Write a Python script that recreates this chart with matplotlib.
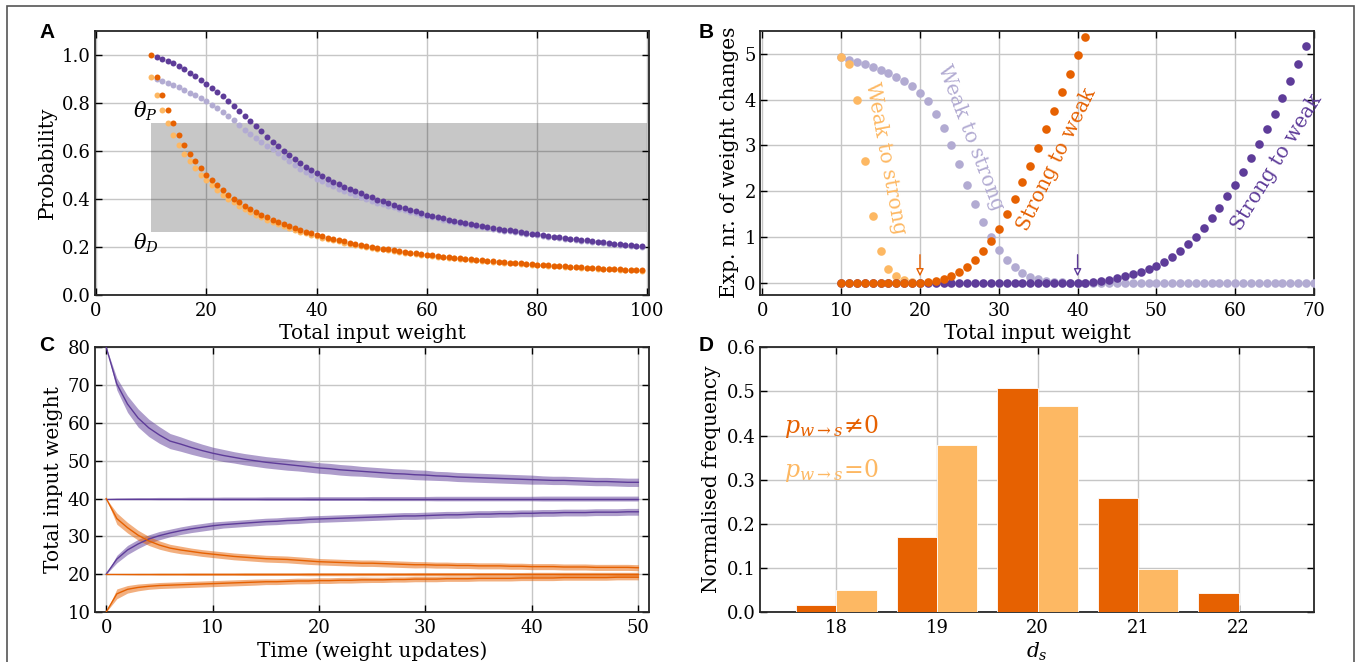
import numpy as np
import matplotlib
matplotlib.use("Agg")
import matplotlib.pyplot as plt
from matplotlib.patches import Rectangle

# ---------------------------------------------------------------- colours
DARK_PURPLE = "#5e3c99"
LIGHT_PURPLE = "#b2abd2"
DARK_ORANGE = "#e66101"
LIGHT_ORANGE = "#fdb863"

# ---------------------------------------------------------------- panel A data
a_weight_orange = list(range(10, 100))
a_weight_purple = list(range(11, 100))

a_prob_dark_orange = [
    1.000, 0.909, 0.833, 0.769, 0.714, 0.667, 0.625, 0.588, 0.556, 0.526,
    0.500, 0.476, 0.455, 0.435, 0.417, 0.400, 0.385, 0.370, 0.357, 0.345,
    0.333, 0.323, 0.313, 0.303, 0.294, 0.286, 0.278, 0.270, 0.263, 0.256,
    0.250, 0.244, 0.238, 0.233, 0.227, 0.222, 0.217, 0.213, 0.208, 0.204,
    0.200, 0.196, 0.192, 0.189, 0.185, 0.182, 0.179, 0.175, 0.172, 0.169,
    0.167, 0.164, 0.161, 0.159, 0.156, 0.154, 0.152, 0.149, 0.147, 0.145,
    0.143, 0.141, 0.139, 0.137, 0.135, 0.133, 0.132, 0.130, 0.128, 0.127,
    0.125, 0.123, 0.122, 0.120, 0.119, 0.118, 0.116, 0.115, 0.114, 0.112,
    0.111, 0.110, 0.109, 0.108, 0.106, 0.105, 0.104, 0.103, 0.102, 0.101]

a_prob_light_orange = [
    0.909, 0.833, 0.769, 0.714, 0.667, 0.625, 0.588, 0.556, 0.526, 0.500,
    0.476, 0.455, 0.435, 0.417, 0.400, 0.385, 0.370, 0.357, 0.345, 0.333,
    0.323, 0.313, 0.303, 0.294, 0.286, 0.278, 0.270, 0.263, 0.256, 0.250,
    0.244, 0.238, 0.233, 0.227, 0.222, 0.217, 0.213, 0.208, 0.204, 0.200,
    0.196, 0.192, 0.189, 0.185, 0.182, 0.179, 0.175, 0.172, 0.169, 0.167,
    0.164, 0.161, 0.159, 0.156, 0.154, 0.152, 0.149, 0.147, 0.145, 0.143,
    0.141, 0.139, 0.137, 0.135, 0.133, 0.132, 0.130, 0.128, 0.127, 0.125,
    0.123, 0.122, 0.120, 0.119, 0.118, 0.116, 0.115, 0.114, 0.112, 0.111,
    0.110, 0.109, 0.108, 0.106, 0.105, 0.104, 0.103, 0.102, 0.101, 0.100]

a_prob_dark_purple = [
    0.989, 0.981, 0.972, 0.964, 0.951, 0.939, 0.925, 0.910, 0.895,
    0.879, 0.862, 0.845, 0.827, 0.807, 0.787, 0.766, 0.745, 0.723, 0.701,
    0.680, 0.658, 0.637, 0.618, 0.599, 0.582, 0.566, 0.550, 0.534, 0.521,
    0.507, 0.495, 0.483, 0.471, 0.461, 0.450, 0.441, 0.431, 0.422, 0.413,
    0.405, 0.396, 0.389, 0.381, 0.373, 0.367, 0.360, 0.354, 0.347, 0.341,
    0.334, 0.329, 0.324, 0.318, 0.313, 0.309, 0.304, 0.300, 0.295, 0.291,
    0.287, 0.283, 0.279, 0.275, 0.271, 0.268, 0.264, 0.261, 0.257, 0.254,
    0.251, 0.248, 0.245, 0.242, 0.239, 0.236, 0.234, 0.231, 0.228, 0.226,
    0.223, 0.221, 0.218, 0.216, 0.213, 0.211, 0.208, 0.206, 0.204, 0.202]

a_prob_light_purple = [
    0.899, 0.892, 0.882, 0.874, 0.864, 0.853, 0.842, 0.831, 0.819,
    0.806, 0.792, 0.777, 0.760, 0.744, 0.726, 0.708, 0.688, 0.670, 0.654,
    0.637, 0.620, 0.605, 0.590, 0.572, 0.556, 0.541, 0.525, 0.510, 0.497,
    0.484, 0.473, 0.462, 0.451, 0.442, 0.432, 0.424, 0.415, 0.407, 0.399,
    0.392, 0.384, 0.378, 0.371, 0.364, 0.358, 0.352, 0.346, 0.340, 0.334,
    0.328, 0.323, 0.318, 0.313, 0.308, 0.304, 0.299, 0.295, 0.291, 0.287,
    0.283, 0.279, 0.275, 0.271, 0.267, 0.264, 0.260, 0.257, 0.254, 0.251,
    0.248, 0.245, 0.242, 0.239, 0.236, 0.233, 0.231, 0.228, 0.225, 0.223,
    0.220, 0.218, 0.215, 0.213, 0.210, 0.208, 0.205, 0.203, 0.201, 0.199]

a_theta_p = 0.715
a_theta_d = 0.26
a_band_start, a_band_end = 10, 100

# ---------------------------------------------------------------- panel B data
b_weight_light_orange = list(range(10, 21))
b_weight_light_purple = list(range(10, 71))
b_weight_dark_orange = list(range(10, 42))
b_weight_dark_purple = list(range(10, 70))

b_light_orange = [4.93, 4.78, 4.00, 2.67, 1.47, 0.71, 0.31, 0.15, 0.07, 0.03, 0.01]

b_light_purple = ([4.92, 4.87, 4.82, 4.78, 4.71, 4.64, 4.58, 4.49, 4.41, 4.30,
                   4.15, 3.96, 3.68, 3.38, 3.00, 2.59, 2.15, 1.72, 1.33, 1.01,
                   0.72, 0.51, 0.35, 0.23, 0.14, 0.09, 0.05, 0.03, 0.02, 0.01]
                  + [0.0] * 31)

b_dark_orange = ([0.0] * 11
                 + [0.02, 0.05, 0.09, 0.15, 0.24, 0.36, 0.51, 0.70, 0.93,
                    1.18, 1.50, 1.83, 2.20, 2.56, 2.94, 3.35, 3.75, 4.16, 4.56,
                    4.96, 5.36])

b_dark_purple = ([0.0] * 31
                 + [0.01, 0.03, 0.05, 0.08, 0.12, 0.16, 0.20, 0.25, 0.31,
                    0.38, 0.46, 0.57, 0.70, 0.85, 1.01, 1.20, 1.41, 1.64, 1.89,
                    2.15, 2.43, 2.72, 3.03, 3.35, 3.69, 4.04, 4.41, 4.78, 5.17])

b_arrow_orange_x = 20
b_arrow_purple_x = 40

# ---------------------------------------------------------------- panel C data
c_time = list(range(0, 51))

c_purple_high = [
    80.0, 70.3, 65.0, 61.3, 58.7, 56.8, 55.2, 54.4, 53.5, 52.7,
    52.0, 51.4, 50.9, 50.4, 50.0, 49.6, 49.3, 49.0, 48.7, 48.4,
    48.1, 47.9, 47.6, 47.4, 47.2, 47.0, 46.8, 46.6, 46.5, 46.3,
    46.2, 46.0, 45.9, 45.7, 45.6, 45.5, 45.4, 45.3, 45.2, 45.1,
    45.0, 44.9, 44.8, 44.8, 44.7, 44.6, 44.5, 44.5, 44.4, 44.3, 44.3]
c_purple_high_sd = [
    0.0, 1.6, 2.2, 2.4, 2.3, 2.2, 2.0, 1.9, 1.8, 1.7,
    1.6, 1.6, 1.5, 1.5, 1.5, 1.5, 1.5, 1.5, 1.4, 1.4,
    1.4, 1.4, 1.4, 1.4, 1.3, 1.3, 1.3, 1.3, 1.3, 1.3,
    1.3, 1.2, 1.2, 1.2, 1.2, 1.2, 1.2, 1.2, 1.2, 1.2,
    1.2, 1.1, 1.1, 1.1, 1.1, 1.1, 1.1, 1.1, 1.1, 1.1, 1.1]

c_purple_mid = [40.0] * 51
c_purple_mid_sd = [
    0.0, 0.15, 0.2, 0.25, 0.25, 0.3, 0.3, 0.3, 0.35, 0.35,
    0.35, 0.4, 0.4, 0.4, 0.4, 0.45, 0.45, 0.45, 0.45, 0.5,
    0.5, 0.5, 0.5, 0.5, 0.5, 0.55, 0.55, 0.55, 0.55, 0.55,
    0.55, 0.6, 0.6, 0.6, 0.6, 0.6, 0.6, 0.6, 0.6, 0.6,
    0.6, 0.65, 0.65, 0.65, 0.65, 0.65, 0.65, 0.65, 0.65, 0.65, 0.65]

c_purple_low = [
    20.0, 24.0, 26.4, 28.0, 29.3, 30.2, 30.9, 31.5, 32.0, 32.4,
    32.8, 33.1, 33.3, 33.5, 33.7, 33.9, 34.0, 34.2, 34.3, 34.5,
    34.6, 34.7, 34.8, 34.9, 35.0, 35.1, 35.2, 35.3, 35.4, 35.4,
    35.5, 35.6, 35.7, 35.7, 35.8, 35.9, 35.9, 36.0, 36.0, 36.1,
    36.1, 36.2, 36.2, 36.3, 36.3, 36.3, 36.4, 36.4, 36.4, 36.5, 36.5]
c_purple_low_sd = [
    0.0, 1.0, 1.2, 1.2, 1.1, 1.1, 1.0, 1.0, 1.0, 1.0,
    1.0, 0.9, 0.9, 0.9, 0.9, 0.9, 0.9, 0.9, 0.9, 0.9,
    0.9, 0.9, 0.9, 0.9, 0.9, 0.9, 0.9, 0.9, 0.9, 0.9,
    0.9, 0.9, 0.9, 0.9, 0.9, 0.9, 0.9, 0.9, 0.9, 0.9,
    0.9, 0.9, 0.9, 0.9, 0.9, 0.9, 0.9, 0.9, 0.9, 0.9, 0.9]

c_orange_high = [
    40.0, 34.7, 32.3, 30.3, 28.8, 27.7, 26.9, 26.4, 26.0, 25.6,
    25.3, 25.0, 24.7, 24.5, 24.3, 24.1, 24.0, 23.9, 23.7, 23.5,
    23.3, 23.2, 23.1, 23.0, 22.9, 22.9, 22.8, 22.7, 22.6, 22.5,
    22.5, 22.4, 22.4, 22.3, 22.3, 22.2, 22.2, 22.2, 22.1, 22.1,
    22.0, 22.0, 22.0, 21.9, 21.9, 21.9, 21.8, 21.8, 21.8, 21.8, 21.7]
c_orange_high_sd = [
    0.0, 1.5, 1.4, 1.3, 1.2, 1.1, 1.0, 1.0, 0.9, 0.9,
    0.9, 0.9, 0.9, 0.9, 0.9, 0.9, 0.9, 0.9, 0.9, 0.9,
    0.85, 0.85, 0.85, 0.85, 0.85, 0.85, 0.85, 0.85, 0.85, 0.85,
    0.8, 0.8, 0.8, 0.8, 0.8, 0.8, 0.8, 0.8, 0.8, 0.8,
    0.8, 0.8, 0.8, 0.8, 0.8, 0.8, 0.8, 0.8, 0.8, 0.8, 0.8]

c_orange_mid = [20.0] * 51
c_orange_mid_sd = [
    0.0, 0.1, 0.15, 0.2, 0.2, 0.25, 0.25, 0.25, 0.3, 0.3,
    0.3, 0.3, 0.3, 0.35, 0.35, 0.35, 0.35, 0.35, 0.35, 0.4,
    0.4, 0.4, 0.4, 0.4, 0.4, 0.4, 0.4, 0.4, 0.4, 0.45,
    0.45, 0.45, 0.45, 0.45, 0.45, 0.45, 0.45, 0.45, 0.45, 0.45,
    0.5, 0.5, 0.5, 0.5, 0.5, 0.5, 0.5, 0.5, 0.5, 0.5, 0.5]

c_orange_low = [
    10.0, 14.8, 16.0, 16.5, 16.8, 17.0, 17.1, 17.2, 17.3, 17.4,
    17.5, 17.6, 17.7, 17.8, 17.9, 18.0, 18.0, 18.1, 18.2, 18.2,
    18.3, 18.3, 18.4, 18.4, 18.5, 18.5, 18.5, 18.6, 18.6, 18.7,
    18.7, 18.7, 18.8, 18.8, 18.8, 18.9, 18.9, 18.9, 18.9, 19.0,
    19.0, 19.0, 19.0, 19.1, 19.1, 19.1, 19.1, 19.1, 19.2, 19.2, 19.2]
c_orange_low_sd = [
    0.0, 1.3, 1.0, 0.9, 0.8, 0.8, 0.8, 0.8, 0.8, 0.8,
    0.8, 0.8, 0.8, 0.8, 0.8, 0.75, 0.75, 0.75, 0.75, 0.75,
    0.75, 0.75, 0.75, 0.75, 0.75, 0.7, 0.7, 0.7, 0.7, 0.7,
    0.7, 0.7, 0.7, 0.7, 0.7, 0.7, 0.7, 0.7, 0.7, 0.7,
    0.7, 0.7, 0.7, 0.7, 0.7, 0.7, 0.7, 0.7, 0.7, 0.7, 0.7]

# ---------------------------------------------------------------- panel D data
d_categories = [18, 19, 20, 21, 22]
d_freq_nonzero = [0.015, 0.171, 0.507, 0.258, 0.042]
d_freq_zero = [0.051, 0.379, 0.467, 0.098, 0.0]

# ---------------------------------------------------------------- styling
plt.rcParams.update({
    "font.family": "DejaVu Serif",
    "mathtext.fontset": "dejavuserif",
    "font.size": 12,
    "axes.linewidth": 1.3,
    "axes.edgecolor": "#262626",
    "xtick.direction": "in",
    "ytick.direction": "in",
    "xtick.top": True,
    "ytick.right": True,
    "xtick.major.size": 5,
    "ytick.major.size": 5,
    "xtick.major.width": 1.0,
    "ytick.major.width": 1.0,
    "xtick.major.pad": 5,
    "ytick.major.pad": 3,
    "xtick.labelsize": 13,
    "ytick.labelsize": 13,
    "axes.labelsize": 14.5,
    "grid.color": "#c6c6c6",
    "grid.linewidth": 1.0,
})

W, H = 1357, 662
fig = plt.figure(figsize=(W / 100, H / 100), dpi=100)


def px_axes(left, top, right, bottom):
    return fig.add_axes([left / W, 1 - bottom / H, (right - left) / W, (bottom - top) / H])


def finish(ax):
    ax.grid(True)
    ax.set_axisbelow(True)


label_font = dict(family="Liberation Sans", weight="bold", size=15)

# ---------------------------------------------------------------- panel A
axA = px_axes(95, 30.7, 649, 294.7)
ms_a = 4.3
axA.plot(a_weight_purple, a_prob_light_purple, "o", color=LIGHT_PURPLE, ms=ms_a, mew=0, zorder=3)
axA.plot(a_weight_purple, a_prob_dark_purple, "o", color=DARK_PURPLE, ms=ms_a, mew=0, zorder=4)
axA.plot(a_weight_orange, a_prob_light_orange, "o", color=LIGHT_ORANGE, ms=ms_a, mew=0, zorder=5)
axA.plot(a_weight_orange, a_prob_dark_orange, "o", color=DARK_ORANGE, ms=ms_a, mew=0, zorder=6)
axA.add_patch(Rectangle((a_band_start, a_theta_d), a_band_end - a_band_start,
                        a_theta_p - a_theta_d, facecolor="k", alpha=0.22,
                        edgecolor="none", zorder=2))
axA.text(9.0, 0.762, r"$\theta_P$", ha="center", va="center", fontsize=15)
axA.text(9.0, 0.212, r"$\theta_D$", ha="center", va="center", fontsize=15)
axA.set_xlim(-0.2, 100.3)
axA.set_ylim(0, 1.1)
axA.set_xticks([0, 20, 40, 60, 80, 100])
axA.set_yticks([0.0, 0.2, 0.4, 0.6, 0.8, 1.0])
axA.set_yticklabels(["0.0", "0.2", "0.4", "0.6", "0.8", "1.0"])
axA.set_xlabel("Total input weight", labelpad=3)
axA.set_ylabel("Probability", labelpad=4)
finish(axA)
fig.text(47 / W, 1 - 33 / H, "A", ha="center", va="center", **label_font)

# ---------------------------------------------------------------- panel B
axB = px_axes(760, 30.7, 1314, 294.7)
ms_b = 6.2
axB.plot(b_weight_light_purple, b_light_purple, "o", color=LIGHT_PURPLE, ms=ms_b, mew=0, zorder=3)
axB.plot(b_weight_light_orange, b_light_orange, "o", color=LIGHT_ORANGE, ms=ms_b, mew=0, zorder=4)
axB.plot(b_weight_dark_purple, b_dark_purple, "o", color=DARK_PURPLE, ms=ms_b, mew=0, zorder=5)
axB.plot(b_weight_dark_orange, b_dark_orange, "o", color=DARK_ORANGE, ms=ms_b, mew=0, zorder=6)
for xa, col in ((b_arrow_orange_x, DARK_ORANGE), (b_arrow_purple_x, DARK_PURPLE)):
    axB.annotate("", xy=(xa, 0.15), xytext=(xa, 0.62),
                 arrowprops=dict(arrowstyle="-|>", fc="white", ec=col, lw=1.0,
                                 mutation_scale=11, shrinkA=0, shrinkB=0),
                 zorder=7)
txt_kw = dict(ha="center", va="center", fontsize=14.5, rotation_mode="anchor")
axB.text(15.6, 2.72, "Weak to strong", color=LIGHT_ORANGE, rotation=-79.5, **txt_kw)
axB.text(26.4, 3.17, "Weak to strong", color=LIGHT_PURPLE, rotation=-69, **txt_kw)
axB.text(37.3, 2.70, "Strong to weak", color=DARK_ORANGE, rotation=64, **txt_kw)
axB.text(65.3, 2.64, "Strong to weak", color=DARK_PURPLE, rotation=58.5, **txt_kw)
axB.set_xlim(-0.3, 70)
axB.set_ylim(-0.25, 5.5)
axB.set_xticks(range(0, 71, 10))
axB.set_yticks(range(0, 6))
axB.set_xlabel("Total input weight", labelpad=3)
axB.set_ylabel("Exp. nr. of weight changes", labelpad=4)
finish(axB)
fig.text(706 / W, 1 - 33 / H, "B", ha="center", va="center", **label_font)

# ---------------------------------------------------------------- panel C
axC = px_axes(94.5, 347.3, 649, 612)
t = np.array(c_time)
for mean, sd, col in ((c_purple_high, c_purple_high_sd, DARK_PURPLE),
                      (c_purple_mid, c_purple_mid_sd, DARK_PURPLE),
                      (c_purple_low, c_purple_low_sd, DARK_PURPLE),
                      (c_orange_high, c_orange_high_sd, DARK_ORANGE),
                      (c_orange_mid, c_orange_mid_sd, DARK_ORANGE),
                      (c_orange_low, c_orange_low_sd, DARK_ORANGE)):
    m = np.array(mean)
    s = np.array(sd)
    axC.fill_between(t, m - s, m + s, color=col, alpha=0.5, lw=0, zorder=2)
    axC.plot(t, m, color=col, lw=1.0, zorder=3)
axC.set_xlim(-1.1, 51)
axC.set_ylim(10, 80)
axC.set_xticks(range(0, 51, 10))
axC.set_yticks(range(10, 81, 10))
axC.set_xlabel("Time (weight updates)", labelpad=3)
axC.set_ylabel("Total input weight", labelpad=3)
finish(axC)
fig.text(47 / W, 1 - 345 / H, "C", ha="center", va="center", **label_font)

# ---------------------------------------------------------------- panel D
axD = px_axes(760, 347.3, 1314, 612)
xd = np.array(d_categories, dtype=float)
bw = 0.4
axD.bar(xd, d_freq_nonzero, width=-bw, align="edge", color=DARK_ORANGE,
        edgecolor="white", linewidth=0.6, zorder=3)
axD.bar(xd, d_freq_zero, width=bw, align="edge", color=LIGHT_ORANGE,
        edgecolor="white", linewidth=0.6, zorder=3)
axD.text(17.48, 0.42, r"$p_{w\to s}\!\neq\!0$", color=DARK_ORANGE, fontsize=17,
         ha="left", va="center")
axD.text(17.48, 0.32, r"$p_{w\to s}\!=\!0$", color=LIGHT_ORANGE, fontsize=17,
         ha="left", va="center")
axD.set_xlim(17.24, 22.75)
axD.set_ylim(0, 0.6)
axD.set_xticks(d_categories)
axD.set_yticks([0.0, 0.1, 0.2, 0.3, 0.4, 0.5, 0.6])
axD.set_yticklabels(["0.0", "0.1", "0.2", "0.3", "0.4", "0.5", "0.6"])
axD.set_xlabel(r"$d_s$", labelpad=3)
axD.set_ylabel("Normalised frequency", labelpad=4)
finish(axD)
fig.text(706 / W, 1 - 345 / H, "D", ha="center", va="center", **label_font)

# ---------------------------------------------------------------- outer frame
fig.add_artist(Rectangle((7 / W, -0.05), (1354 - 7) / W, 1.05 - 6 / H,
                         transform=fig.transFigure, fill=False,
                         edgecolor="#555555", linewidth=1.2))

fig.savefig("out.png", dpi=100)
